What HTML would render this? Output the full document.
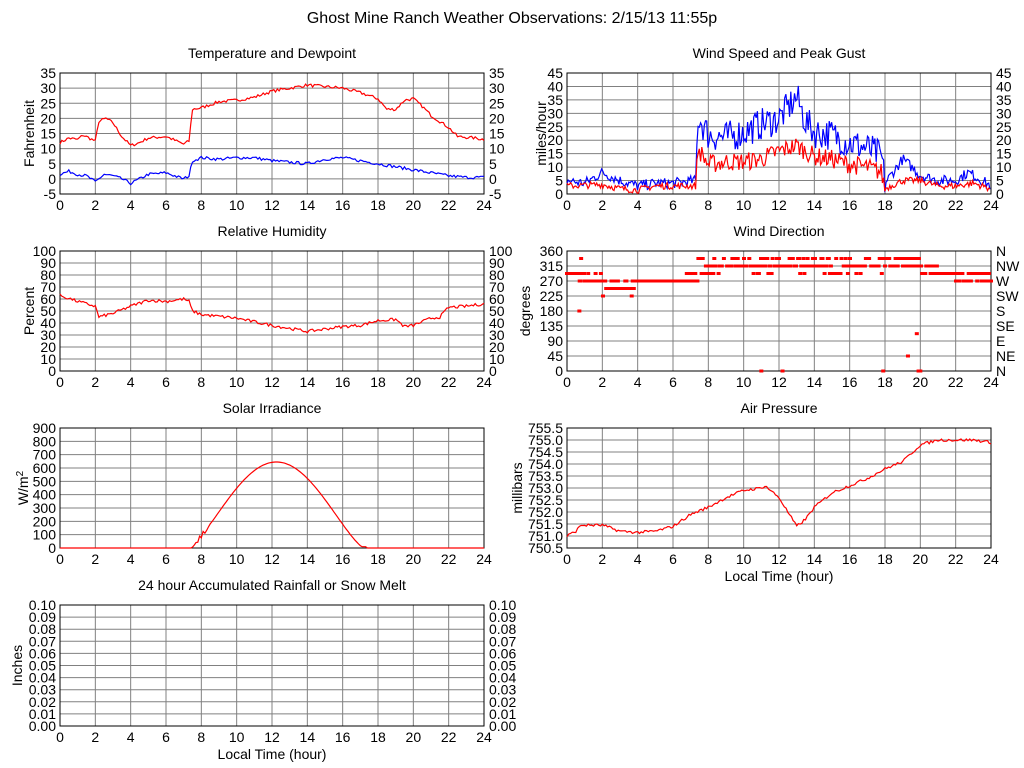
<!DOCTYPE html>
<html><head><meta charset="utf-8"><style>
body{margin:0;background:#fff;}
svg{display:block;font-family:"Liberation Sans",sans-serif;}
text{font-size:14px;fill:#000;}
</style></head><body>
<svg id="s" width="1024" height="768" xmlns="http://www.w3.org/2000/svg"></svg>
<script>
var S=document.getElementById('s'),out='';
var seed=7;function rnd(){seed=(seed*16807)%2147483647;return seed/2147483647;}
function interp(k,h){for(var i=0;i<k.length-1;i++){if(h<=k[i+1][0]){var a=k[i],b=k[i+1];return a[1]+(b[1]-a[1])*(h-a[0])/(b[0]-a[0]);}}return k[k.length-1][1];}
function T(x,y,s,anchor,extra){out+='<text x="'+x+'" y="'+y+'" text-anchor="'+(anchor||'start')+'" '+(extra||'')+'>'+s+'</text>';}
function panel(o){
 var L=o.x,R=o.x+424,t=o.y,b=o.y+o.h,n=o.labels.length-1;
 for(var i=1;i<12;i++){var gx=L+424*i/12;out+='<line x1="'+gx+'" y1="'+t+'" x2="'+gx+'" y2="'+b+'" stroke="#808080"/>';}
 for(var j=0;j<=n;j++){var gy=b-o.h*j/n;if(j>0&&j<n)out+='<line x1="'+L+'" y1="'+gy+'" x2="'+R+'" y2="'+gy+'" stroke="#808080"/>';
  T(L-4,gy+5,o.labels[j],'end');if(o.right)T(R+5,gy+5,o.right[j]);}
 for(var i=0;i<=12;i++)T(L+424*i/12,b+16,String(2*i),'middle');
 out+='<rect x="'+L+'" y="'+t+'" width="424" height="'+o.h+'" fill="none" stroke="#000"/>';
 T(L+212,t-15,o.title,'middle');
 T(o.yx,t+o.h/2,o.ytitle,'middle','transform="rotate(-90 '+o.yx+' '+(t+o.h/2)+')"');
 if(o.xt)T(L+212,b+33,'Local Time (hour)','middle');
}
function series(o,k,min,max,noise,col,step){
 var pts=[];step=step||0.1;
 for(var h=0;h<=24.001;h+=step){var v=interp(k,h)+(rnd()-0.5)*noise(h);
  pts.push((o.x+424*h/24).toFixed(1)+','+(o.y+o.h-(v-min)/(max-min)*o.h).toFixed(1));}
 out+='<polyline points="'+pts.join(' ')+'" fill="none" stroke="'+col+'" stroke-width="1.2"/>';
}
function rng(a,b,s,d){var r=[];for(var v=a;v<=b+1e-9;v+=s)r.push(v.toFixed(d||0));return r;}
T(512,23,'Ghost Mine Ranch Weather Observations: 2/15/13 11:55p','middle','style="font-size:16px"');
var P1={x:60,y:73,h:121,title:'Temperature and Dewpoint',ytitle:'Fahrenheit',yx:34,labels:rng(-5,35,5)};P1.right=P1.labels;
panel(P1);
series(P1,[[0,12],[0.5,13.5],[1,13],[1.3,14.5],[2,12.5],[2.2,19],[2.6,20],[3,18.5],[3.5,14],[4,11],[4.5,12],[5,13.5],[6,14],[7,11.5],[7.3,12.5],[7.5,23],[8,23.5],[9,25.5],[10,26],[11,27],[12,29],[14,31],[15,30.5],[16,30],[17,28.5],[18,26.5],[18.5,23],[19,23],[19.5,26],[20,26.5],[20.5,24],[21,21],[22,17],[22.5,14],[23.5,13.5],[24,13]],-5,35,function(){return 1;},'#f00');
series(P1,[[0,1.5],[0.5,2.5],[1,1.5],[1.5,1],[2,-1],[2.5,1.5],[3,1],[3.5,0],[4,-1.5],[4.5,0],[5,1.5],[6,2],[6.5,1],[7,0],[7.3,1],[7.5,6],[8,7],[9,6.5],[10,7],[11,7],[12,6],[13,5.5],[14,5],[15,6.5],[16,7],[17,6],[18,5],[19,4],[20,3],[21,2],[22,1],[23,0.5],[24,0.5]],-5,35,function(){return 1;},'#00f');
var P2={x:567,y:73,h:121,title:'Wind Speed and Peak Gust',ytitle:'miles/hour',yx:546,labels:rng(0,45,5)};P2.right=P2.labels;
panel(P2);
series(P2,[[0,5],[1,4],[1.5,6],[2,8],[3,5],[4,3],[5,4],[6,4],[7.3,5],[7.4,29],[8,22],[9,21],[10,23],[11,26],[12,28],[13,36],[13.5,27],[14,23],[15,22],[16,19],[17,17],[17.8,14],[18,4],[19,13],[19.5,10],[20,7],[21,5],[22,5],[22.7,8],[23,7],[24,3]],0,45,function(h){return h>7.3&&h<18?12:4;},'#00f',0.07);
series(P2,[[0,3],[2,3.5],[3,2],[4,1.5],[5,3],[7.3,3],[7.4,17],[8,11],[9,12],[10,12],[11,13],[12,16],[13,18],[14,14],[15,13],[16,11],[17,10],[17.8,8],[18,2],[19,5],[20,5],[21,3],[22,3],[23,4],[24,2]],0,45,function(h){return h>7.3&&h<18?7:2.5;},'#f00',0.07);
var P3={x:60,y:251,h:120,title:'Relative Humidity',ytitle:'Percent',yx:34,labels:rng(0,100,10)};P3.right=P3.labels;
panel(P3);
series(P3,[[0,63],[1,58],[2,54],[2.2,45],[3,48],[4,54],[5,59],[6,58],[7,60],[7.3,58],[7.5,50],[8,47],[10,44],[12,38],[14,33],[15,35],[16,37],[17,38],[18,42],[19,43],[19.5,37],[20,38],[21,44],[21.5,45],[22,53],[23,54],[24,56]],0,100,function(){return 2.5;},'#f00');
var P4={x:567,y:251,h:120,title:'Wind Direction',ytitle:'degrees',yx:530,labels:rng(0,360,45),right:['N','NE','E','SE','S','SW','W','NW','N']};
panel(P4);
for(var h=0;h<24;h+=0.06){var d;var r=rnd();
 if(h<0.7)d=292.5;else if(h<2)d=r<0.6?270:(r<0.8?292.5:225);else if(h<3.8)d=r<0.7?247.5:(r<0.85?270:225);
 else if(h<6.7)d=270;else if(h<7.4)d=r<0.5?292.5:270;else if(h<18){if(r<0.3)continue;d=r<0.7?315:(r<0.88?337.5:292.5);}
 else if(h<20)d=r<0.7?315:337.5;else if(h<21)d=r<0.5?315:292.5;else if(h<22)d=292.5;else d=r<0.5?270:292.5;
 out+='<rect x="'+(P4.x+424*h/24-2).toFixed(1)+'" y="'+(P4.y+120-d/360*120-1.5).toFixed(1)+'" width="4" height="3" fill="#f00"/>';}
[[0.7,180],[0.8,337.5],[11,0],[12.2,0],[17.9,0],[19.3,45],[19.8,112],[19.9,0],[20,0]].forEach(function(p){out+='<rect x="'+(P4.x+424*p[0]/24-2)+'" y="'+(P4.y+120-p[1]/360*120-1.5)+'" width="4" height="3" fill="#f00"/>';});
var P5={x:60,y:428,h:120,title:'Solar Irradiance',ytitle:'W/m<tspan dy="-5" style="font-size:10px">2</tspan>',yx:28,labels:rng(0,900,100)};
panel(P5);
(function(){var pts=[];for(var h=0;h<=24.001;h+=0.1){var v=0;if(h>7.3&&h<17.2){v=645*Math.pow(Math.sin(Math.PI*(h-7.3)/9.9),1.3);if(h<8.5)v+=(rnd()-0.5)*60;}if(h>17&&h<17.3)v=10;v=Math.max(v,0);
pts.push((P5.x+424*h/24).toFixed(1)+','+(P5.y+120-v/900*120).toFixed(1));}out+='<polyline points="'+pts.join(' ')+'" fill="none" stroke="#f00" stroke-width="1.2"/>';})();
var P6={x:567,y:428,h:120,title:'Air Pressure',ytitle:'millibars',yx:522,labels:rng(750.5,755.5,0.5,1),xt:1};
panel(P6);
series(P6,[[0,751],[0.5,751.2],[0.8,751.45],[2,751.45],[3,751.2],[4,751.15],[5,751.2],[6,751.4],[7,751.9],[8,752.2],[9,752.6],[10,752.9],[11,753.0],[11.2,753.1],[12,752.6],[12.5,752.0],[13,751.4],[13.5,751.7],[14,752.2],[15,752.8],[16,753.1],[17,753.4],[18,753.8],[19,754.1],[20,754.8],[21,755.0],[22,755.0],[23,755.0],[24,754.9]],750.5,755.5,function(){return 0.12;},'#f00');
var P7={x:60,y:605,h:121,title:'24 hour Accumulated Rainfall or Snow Melt',ytitle:'Inches',yx:22,labels:rng(0,0.1,0.01,2),xt:1};P7.right=P7.labels;
panel(P7);
S.innerHTML=out;
</script>
</body></html>
